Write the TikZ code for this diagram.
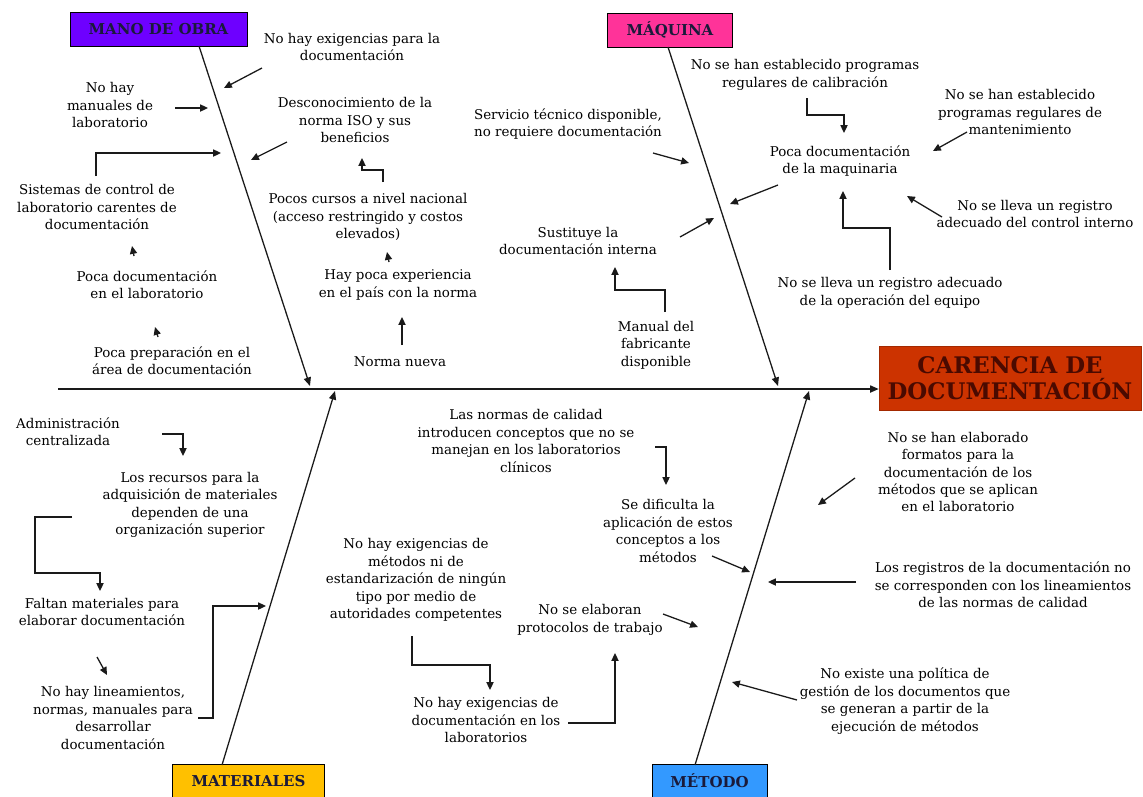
\documentclass[tikz,border=0pt]{standalone}
\usepackage{fontspec}
\setmainfont{DejaVu Serif}
\usetikzlibrary{arrows.meta}
\definecolor{ManoColor}{HTML}{6E00FF}
\definecolor{MaquinaColor}{HTML}{FF3399}
\definecolor{MaterialesColor}{HTML}{FFC000}
\definecolor{MetodoColor}{HTML}{3399FF}
\definecolor{EfectoColor}{HTML}{CC3300}
\definecolor{EfectoText}{HTML}{4A0A00}
\definecolor{CatText}{HTML}{1A1A3A}
\definecolor{LineColor}{HTML}{1A1A1A}
\newcommand{\causefont}{\fontsize{9.4}{12.2}\selectfont}

\begin{document}
\begin{tikzpicture}[x=0.7pt, y=-0.7pt,
    txt/.style={align=center, font=\causefont, inner sep=1pt},
    cat/.style={draw=black, line width=0.7pt, font=\fontsize{10.5}{12}\selectfont\bfseries, text=CatText, minimum height=23.8pt, inner sep=2pt},
    arr/.style={-{Triangle[length=5.5pt,width=5pt]}, line width=0.9pt, LineColor},
    bone/.style={-{Triangle[length=6pt,width=5pt]}, line width=0.9pt, LineColor}
  ]
  \useasboundingbox (0,0) rectangle (1143,796);

  % effect and categories
  \node[draw=EfectoColor!80!black, fill=EfectoColor, minimum width=183.4pt, minimum height=44.8pt, align=center,
        font=\fontsize{16}{18}\selectfont\bfseries, text=EfectoText] (efecto) at (1010,378) {CARENCIA DE\\DOCUMENTACIÓN};
  \node[cat, fill=ManoColor, minimum width=123.9pt] (mano) at (158.5,29) {MANO DE OBRA};
  \node[cat, fill=MaquinaColor, minimum width=87.5pt] (maquina) at (670,30) {MÁQUINA};
  \node[cat, fill=MaterialesColor, minimum width=107pt] (materiales) at (248.5,781) {MATERIALES};
  \node[cat, fill=MetodoColor, minimum width=80.5pt] (metodo) at (709.5,781) {MÉTODO};

  % spine and bones
  \coordinate (spineStart) at (58,389);
  \coordinate (manoRoot) at (199,46);      \coordinate (manoTip) at (310,386);
  \coordinate (maquinaRoot) at (668,47);   \coordinate (maquinaTip) at (778,386);
  \coordinate (materialesRoot) at (222,765); \coordinate (materialesTip) at (335,391);
  \coordinate (metodoRoot) at (695,765);   \coordinate (metodoTip) at (809,391);
  \draw[bone] (spineStart) -- (spineStart -| efecto.west);
  \draw[bone] (manoRoot) -- (manoTip);
  \draw[bone] (maquinaRoot) -- (maquinaTip);
  \draw[bone] (materialesRoot) -- (materialesTip);
  \draw[bone] (metodoRoot) -- (metodoTip);

  % mano de obra
  \node[txt] (exig) at (352,47) {No hay exigencias para la\\documentación};
  \node[txt] (manuales) at (110,105) {No hay\\manuales de\\laboratorio};
  \node[txt] (desconoc) at (355,120) {Desconocimiento de la\\norma ISO y sus\\beneficios};
  \node[txt] (sistemas) at (97,207) {Sistemas de control de\\laboratorio carentes de\\documentación};
  \node[txt] (pocadoc) at (147,285) {Poca documentación\\en el laboratorio};
  \node[txt] (pocaprep) at (172,361) {Poca preparación en el\\área de documentación};
  \node[txt] (cursos) at (368,217) {Pocos cursos a nivel nacional\\(acceso restringido y costos\\elevados)};
  \node[txt] (experiencia) at (398,285) {Hay poca experiencia\\en el país con la norma};
  \node[txt] (normanueva) at (400,362) {Norma nueva};

  \coordinate (exigA) at (262,68);   \coordinate (exigB) at (224,88);
  \coordinate (manA) at (175,108);   \coordinate (manB) at (208,108);
  \coordinate (descA) at (287,142);  \coordinate (descB) at (251,160);
  \coordinate (sisA) at (96,176);    \coordinate (sisB) at (221,153);
  \coordinate (pdocA) at (134,256);  \coordinate (pdocB) at (132,246);
  \coordinate (prepA) at (158,337);  \coordinate (prepB) at (155,327);
  \coordinate (curA) at (383,182);   \coordinate (curB) at (362,170);  \coordinate (curC) at (362,158);
  \coordinate (expA) at (389,262);   \coordinate (expB) at (387,252);
  \coordinate (normA) at (402,345);  \coordinate (normB) at (402,317);
  \draw[arr] (exigA) -- (exigB);
  \draw[arr] (manA) -- (manB);
  \draw[arr] (descA) -- (descB);
  \draw[arr] (sisA) |- (sisB);
  \draw[arr] (pdocA) -- (pdocB);
  \draw[arr] (prepA) -- (prepB);
  \draw[arr] (curA) |- (curB) -- (curC);
  \draw[arr] (expA) -- (expB);
  \draw[arr] (normA) -- (normB);

  % maquina
  \node[txt] (calib) at (805,75) {No se han establecido programas\\regulares de calibración};
  \node[txt] (mant) at (1020,112) {No se han establecido\\programas regulares de\\mantenimiento};
  \node[txt] (servicio) at (568,124) {Servicio técnico disponible,\\no requiere documentación};
  \node[txt] (docmaq) at (840,161) {Poca documentación\\de la maquinaria};
  \node[txt] (control) at (1035,214) {No se lleva un registro\\adecuado del control interno};
  \node[txt] (sustituye) at (578,241) {Sustituye la\\documentación interna};
  \node[txt] (operacion) at (890,293) {No se lleva un registro adecuado\\de la operación del equipo};
  \node[txt] (manual) at (656,345) {Manual del\\fabricante\\disponible};

  \coordinate (calA) at (807,98);    \coordinate (calB) at (844,115);  \coordinate (calC) at (844,133);
  \coordinate (mantA) at (967,132);  \coordinate (mantB) at (933,151);
  \coordinate (servA) at (653,153);  \coordinate (servB) at (689,163);
  \coordinate (dmaqA) at (778,185);  \coordinate (dmaqB) at (730,204);
  \coordinate (ctrlA) at (942,217);  \coordinate (ctrlB) at (907,196);
  \coordinate (sustA) at (680,237);  \coordinate (sustB) at (714,218);
  \coordinate (operA) at (890,270);  \coordinate (operB) at (843,228); \coordinate (operC) at (843,191);
  \coordinate (fabA) at (665,312);   \coordinate (fabB) at (615,290);  \coordinate (fabC) at (615,267);
  \draw[arr] (calA) |- (calB) -- (calC);
  \draw[arr] (mantA) -- (mantB);
  \draw[arr] (servA) -- (servB);
  \draw[arr] (dmaqA) -- (dmaqB);
  \draw[arr] (ctrlA) -- (ctrlB);
  \draw[arr] (sustA) -- (sustB);
  \draw[arr] (operA) |- (operB) -- (operC);
  \draw[arr] (fabA) |- (fabB) -- (fabC);

  % materiales
  \node[txt] (admin) at (68,432) {Administración\\centralizada};
  \node[txt] (recursos) at (190,505) {Los recursos para la\\adquisición de materiales\\dependen de una\\organización superior};
  \node[txt] (faltan) at (102,612) {Faltan materiales para\\elaborar documentación};
  \node[txt] (lineam) at (113,718) {No hay lineamientos,\\normas, manuales para\\desarrollar\\documentación};

  \coordinate (admA) at (162,434);   \coordinate (admB) at (183,456);
  \coordinate (recA) at (72,517);    \coordinate (recB) at (35,573);   \coordinate (recC) at (100,591);
  \coordinate (faltA) at (97,657);   \coordinate (faltB) at (107,675);
  \coordinate (linA) at (198,718);   \coordinate (linB) at (213,606);  \coordinate (linC) at (266,606);
  \draw[arr] (admA) -| (admB);
  \draw[arr] (recA) -| (recB) -| (recC);
  \draw[arr] (faltA) -- (faltB);
  \draw[arr] (linA) -| (linB) -- (linC);

  % metodo
  \node[txt] (normcal) at (526,441) {Las normas de calidad\\introducen conceptos que no se\\manejan en los laboratorios\\clínicos};
  \node[txt] (dificulta) at (668,531) {Se dificulta la\\aplicación de estos\\conceptos a los\\métodos};
  \node[txt] (exigmet) at (416,580) {No hay exigencias de\\métodos ni de\\estandarización de ningún\\tipo por medio de\\autoridades competentes};
  \node[txt] (exigdoc) at (486,720) {No hay exigencias de\\documentación en los\\laboratorios};
  \node[txt] (protoc) at (590,620) {No se elaboran\\protocolos de trabajo};
  \node[txt] (formatos) at (958,472) {No se han elaborado\\formatos para la\\documentación de los\\métodos que se aplican\\en el laboratorio};
  \node[txt] (registros) at (1003,585) {Los registros de la documentación no\\se corresponden con los lineamientos\\de las normas de calidad};
  \node[txt] (politica) at (905,701) {No existe una política de\\gestión de los documentos que\\se generan a partir de la\\ejecución de métodos};

  \coordinate (ncA) at (655,447);    \coordinate (ncB) at (666,485);
  \coordinate (difA) at (712,556);   \coordinate (difB) at (750,572);
  \coordinate (emA) at (412,636);    \coordinate (emB) at (490,665);   \coordinate (emC) at (490,690);
  \coordinate (edA) at (568,723);    \coordinate (edB) at (615,653);
  \coordinate (proA) at (663,614);   \coordinate (proB) at (698,627);
  \coordinate (forA) at (855,478);   \coordinate (forB) at (818,505);
  \coordinate (regA) at (856,582);   \coordinate (regB) at (768,582);
  \coordinate (polA) at (797,700);   \coordinate (polB) at (732,682);
  \draw[arr] (ncA) -| (ncB);
  \draw[arr] (difA) -- (difB);
  \draw[arr] (emA) |- (emB) -- (emC);
  \draw[arr] (edA) -| (edB);
  \draw[arr] (proA) -- (proB);
  \draw[arr] (forA) -- (forB);
  \draw[arr] (regA) -- (regB);
  \draw[arr] (polA) -- (polB);
\end{tikzpicture}
\end{document}
